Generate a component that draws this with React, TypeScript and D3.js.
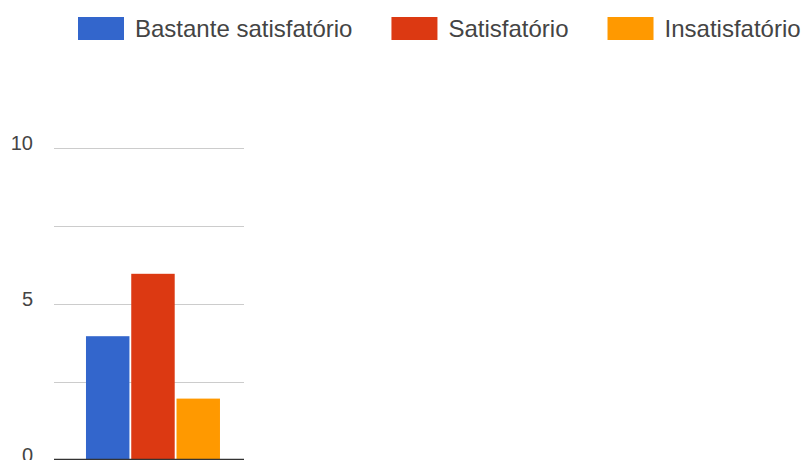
import * as d3 from 'd3';
import React, {useRef, useEffect} from 'react';

const categories = [""];
const series = ["Bastante satisfatório", "Satisfatório", "Insatisfatório"];
const values = [4, 6, 2];
const colours = ["#3366cc", "#dc3912", "#ff9900"];
const gridTicks = [0, 2.5, 5, 7.5, 10];
const labelTicks = [0, 5, 10];

const width = 806;
const height = 460;

export default function App() {
  const ref = useRef<SVGSVGElement>(null);

  useEffect(() => {
    const svg = d3.select(ref.current);
    svg.selectAll("*").remove();

    const font = "Arial, 'Liberation Sans', sans-serif";

    const y = d3.scaleLinear().domain([0, 10]).range([459.5, 147.5]);

    const x0 = d3.scaleBand<string>()
      .domain(categories)
      .range([54, 244])
      .paddingInner(0)
      .paddingOuter(0.209)
      .align(0.571);

    const x1 = d3.scaleBand<string>()
      .domain(series)
      .range([0, x0.bandwidth()])
      .paddingInner(0.04);

    // gridlines
    svg.append("g")
      .selectAll("line")
      .data(gridTicks.filter(t => t > 0))
      .enter()
      .append("line")
      .attr("x1", 54)
      .attr("x2", 244)
      .attr("y1", d => Math.round(y(d)) + 0.5)
      .attr("y2", d => Math.round(y(d)) + 0.5)
      .attr("stroke", "#cccccc")
      .attr("stroke-width", 1.2);

    // tick labels
    svg.append("g")
      .selectAll("text")
      .data(labelTicks)
      .enter()
      .append("text")
      .attr("x", 33)
      .attr("y", d => y(d) + 2)
      .attr("text-anchor", "end")
      .attr("font-family", font)
      .attr("font-size", "20px")
      .attr("fill", "#444444")
      .text(d => d);

    // bars
    const groups = svg.append("g")
      .selectAll("g")
      .data(categories)
      .enter()
      .append("g")
      .attr("transform", d => `translate(${x0(d)},0)`);

    groups.selectAll("rect")
      .data(() => series.map((s, i) => ({s, v: values[i], c: colours[i]})))
      .enter()
      .append("rect")
      .attr("x", d => x1(d.s) as number)
      .attr("y", d => y(d.v) + 1.5)
      .attr("width", x1.bandwidth())
      .attr("height", d => y(0) - y(d.v) - 1.5)
      .attr("fill", d => d.c);

    // baseline
    svg.append("line")
      .attr("x1", 54)
      .attr("x2", 244)
      .attr("y1", 459.5)
      .attr("y2", 459.5)
      .attr("stroke", "#333333")
      .attr("stroke-width", 1.5);

    // legend
    const legend = svg.append("g");
    let lx = 78;
    series.forEach((s, i) => {
      legend.append("rect")
        .attr("x", lx)
        .attr("y", 17)
        .attr("width", 46)
        .attr("height", 23)
        .attr("fill", colours[i]);
      const t = legend.append("text")
        .attr("x", lx + 57)
        .attr("y", 37)
        .attr("font-family", font)
        .attr("font-size", "24px")
        .attr("fill", "#444444")
        .text(s);
      const w = (t.node() as SVGTextElement).getComputedTextLength();
      lx = lx + 57 + w + 39;
    });
  }, []);

  return (
    <div style={{position: "absolute", left: 0, top: 0}}>
      <svg ref={ref} width={width} height={height} style={{display: "block", background: "#fff"}}>
      </svg>
    </div>
  );
}
